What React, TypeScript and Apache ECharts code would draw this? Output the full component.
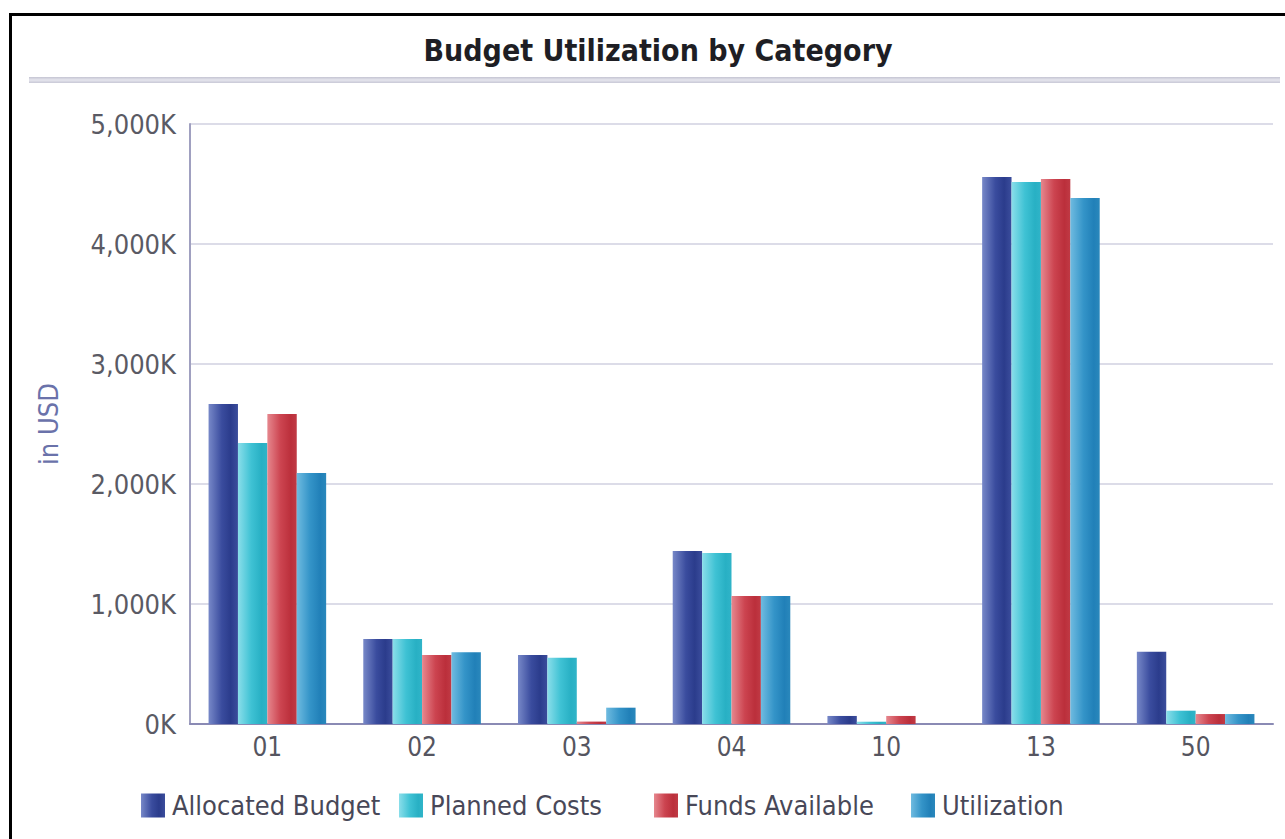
import React, { useEffect, useRef } from "react";
import * as echarts from "echarts";

const categories = ["01", "02", "03", "04", "10", "13", "50"];
const allocatedBudget = [2667, 708, 575, 1442, 67, 4558, 603];
const plannedCosts = [2342, 708, 552, 1425, 19, 4517, 111];
const fundsAvailable = [2583, 575, 20, 1067, 67, 4542, 83];
const utilization = [2092, 597, 136, 1067, 0, 4383, 83];
const seriesNames = ["Allocated Budget", "Planned Costs", "Funds Available", "Utilization"];
const yMax = 5000;
const yInterval = 1000;

const grad = (stops: [number, string][]) =>
  new echarts.graphic.LinearGradient(0, 0, 1, 0, stops.map(([offset, color]) => ({ offset, color })));

const colors = [
  grad([[0, "#7788c8"], [0.45, "#3a4c9e"], [0.75, "#2b3c8c"], [1, "#3b4d9c"]]),
  grad([[0, "#8adeea"], [0.45, "#3fc2d4"], [0.8, "#28b0c4"], [1, "#30b4c8"]]),
  grad([[0, "#e6878e"], [0.45, "#cc4450"], [0.8, "#bb2f3b"], [1, "#c03a45"]]),
  grad([[0, "#6fbbe0"], [0.45, "#3494c8"], [0.8, "#2180b8"], [1, "#2a88bc"]]),
];

const fontCond = "'DejaVu Sans Condensed', 'DejaVu Sans', sans-serif";

export default function App() {
  const ref = useRef<HTMLDivElement>(null);
  useEffect(() => {
    if (!ref.current) return;
    const chart = echarts.init(ref.current, null, { renderer: "svg" });
    const data = [allocatedBudget, plannedCosts, fundsAvailable, utilization];
    const legendLefts = [141, 399, 654, 911];
    chart.setOption({
      animation: false,
      backgroundColor: "#ffffff",
      title: {
        text: "Budget Utilization by Category",
        left: 653,
        top: 30,
        textAlign: "center",
        textStyle: {
          fontFamily: fontCond,
          fontWeight: "bold",
          fontSize: 30,
          color: "#1e1e24",
        },
      },
      legend: seriesNames.map((name, i) => ({
        data: [name],
        left: legendLefts[i] - 5,
        top: 787,
        itemWidth: 24,
        itemHeight: 24,
        itemGap: 0,
        icon: "rect",
        selectedMode: false,
        textStyle: {
          fontFamily: fontCond,
          fontSize: 27,
          color: "#484858",
          padding: [0, 0, 0, 2],
        },
      })),
      grid: { left: 190, right: 12, top: 124, bottom: 115, containLabel: false },
      xAxis: {
        type: "category",
        data: categories,
        axisLine: { lineStyle: { color: "#8a8ab4", width: 2 } },
        axisTick: { show: false },
        axisLabel: {
          fontFamily: fontCond,
          fontSize: 26,
          color: "#555560",
          margin: 10,
        },
      },
      yAxis: {
        type: "value",
        min: 0,
        max: yMax,
        interval: yInterval,
        name: "in USD",
        nameLocation: "middle",
        nameGap: 128,
        nameRotate: 90,
        nameTextStyle: {
          fontFamily: fontCond,
          fontSize: 27,
          color: "#6a72aa",
        },
        axisLine: { show: true, lineStyle: { color: "#a0a0c0", width: 2 } },
        axisTick: { show: false },
        splitLine: { lineStyle: { color: "#dcdce8", width: 2 } },
        axisLabel: {
          fontFamily: fontCond,
          fontSize: 27,
          color: "#5a5a64",
          margin: 14,
          formatter: (v: number) => v.toLocaleString("en-US") + "K",
        },
      },
      series: seriesNames.map((name, i) => ({
        name,
        type: "bar",
        data: data[i],
        barGap: "0%",
        barCategoryGap: "24%",
        itemStyle: { color: colors[i] },
      })),
      graphic: [
        {
          type: "rect",
          shape: { x: 10.5, y: 14.5, width: 1300, height: 900 },
          style: { fill: "none", stroke: "#000000", lineWidth: 3 },
          silent: true,
        },
        {
          type: "rect",
          shape: { x: 29, y: 77, width: 1251, height: 6 },
          style: {
            fill: new echarts.graphic.LinearGradient(0, 0, 0, 1, [
              { offset: 0, color: "#c4c4d2" },
              { offset: 0.5, color: "#e6e6ee" },
              { offset: 1, color: "#c8c8d6" },
            ]),
          },
          silent: true,
        },
      ],
    });
    return () => chart.dispose();
  }, []);
  return (
    <div
      ref={ref}
      style={{ position: "absolute", left: 0, top: 0, width: 1285, height: 839 }}
    />
  );
}
